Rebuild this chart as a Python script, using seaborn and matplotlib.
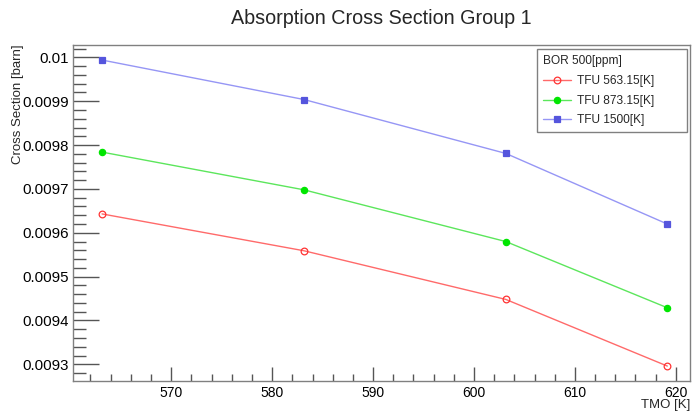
import matplotlib
matplotlib.use("Agg")
import matplotlib.pyplot as plt
from matplotlib.ticker import MultipleLocator, FuncFormatter
import seaborn as sns
import pandas as pd

# ---- data ----
tmo = [563.15, 583.15, 603.15, 619.15]
tfu_563 = [0.009643, 0.009559, 0.009448, 0.009296]
tfu_873 = [0.009784, 0.009698, 0.009580, 0.009429]
tfu_1500 = [0.009994, 0.009904, 0.009781, 0.009620]
series_names = ["TFU 563.15[K]", "TFU 873.15[K]", "TFU 1500[K]"]
legend_header = "BOR 500[ppm]"
title = "Absorption Cross Section Group 1"
xlabel = "TMO [K]"
ylabel = "Cross Section [barn]"

sns.set_theme(style="white")
plt.rcParams['font.family'] = ['Liberation Sans', 'DejaVu Sans']

W, H = 696, 413
fig = plt.figure(figsize=(W / 100, H / 100), dpi=100)
L, R, T, B = 73.3, 690, 44.7, 380.7
ax = fig.add_axes([L / W, 1 - B / H, (R - L) / W, (B - T) / H])

frames = []
for name, vals in zip(series_names, [tfu_563, tfu_873, tfu_1500]):
    frames.append(pd.DataFrame({"TMO": tmo, "value": vals, "series": name}))
df = pd.concat(frames, ignore_index=True)

styles = {
    "TFU 563.15[K]": dict(line="#ff6a6a", mk="o", mfc="none", mec="#ff3333", ms=4.8),
    "TFU 873.15[K]": dict(line="#5ce65c", mk="o", mfc="#00e600", mec="#00e600", ms=4.5),
    "TFU 1500[K]": dict(line="#9696f5", mk="s", mfc="#5555dd", mec="#5555dd", ms=4.2),
}

for name in series_names:
    st = styles[name]
    sub = df[df["series"] == name]
    sns.lineplot(data=sub, x="TMO", y="value", ax=ax, color=st["line"],
                 linewidth=1.0, marker=st["mk"], markersize=st["ms"],
                 markerfacecolor=st["mfc"], markeredgecolor=st["mec"],
                 markeredgewidth=0.9, label=name, sort=False, estimator=None)

ax.set_xlim(560.3, 621.4)
ax.set_ylim(0.0092626, 0.010029)

ax.xaxis.set_major_locator(MultipleLocator(10))
ax.xaxis.set_minor_locator(MultipleLocator(2))
ax.yaxis.set_major_locator(MultipleLocator(0.0001))
ax.yaxis.set_minor_locator(MultipleLocator(0.00002))
ax.yaxis.set_major_formatter(FuncFormatter(lambda v, p: f"{v:.4f}".rstrip('0').rstrip('.')))
ax.xaxis.set_major_formatter(FuncFormatter(lambda v, p: f"{v:g}"))

tick_col = "#555555"
ax.tick_params(axis='x', which='major', direction='in', length=10, width=1, color=tick_col,
               labelsize=10, pad=4, labelcolor="black", bottom=True)
ax.tick_params(axis='x', which='minor', direction='in', length=5, width=1, color=tick_col, bottom=True)
ax.tick_params(axis='y', which='major', direction='in', length=19, width=1, color=tick_col,
               labelsize=10.8, pad=3, labelcolor="black", left=True)
ax.tick_params(axis='y', which='minor', direction='in', length=9.5, width=1, color=tick_col, left=True)

for sp in ax.spines.values():
    sp.set_color("#808080")
    sp.set_linewidth(1.0)

ax.set_xlabel("")
ax.set_ylabel("")
fig.text(R / W, 1 - 405 / H, xlabel, ha='right', va='center', fontsize=9.5)
fig.text(18 / W, 1 - T / H, ylabel, ha='center', va='top', rotation=90, fontsize=9.5)
fig.text((L + R) / 2 / W, 1 - 18 / H, title, ha='center', va='center', fontsize=14.2)

leg = ax.legend(title=legend_header, loc='upper left',
                bbox_to_anchor=(537.3 / W, 1 - 128.3 / H, 149.4 / W, 79.3 / H),
                bbox_transform=fig.transFigure, mode='expand', borderaxespad=0,
                fontsize=8.6, title_fontsize=8.6, alignment='left',
                frameon=True, fancybox=False, framealpha=1, edgecolor="#808080",
                handlelength=2.3, handletextpad=0.5, labelspacing=0.62, borderpad=0.5)
leg.get_frame().set_linewidth(1.0)
leg._legend_box.sep = 6

fig.savefig("out.png", dpi=100)
